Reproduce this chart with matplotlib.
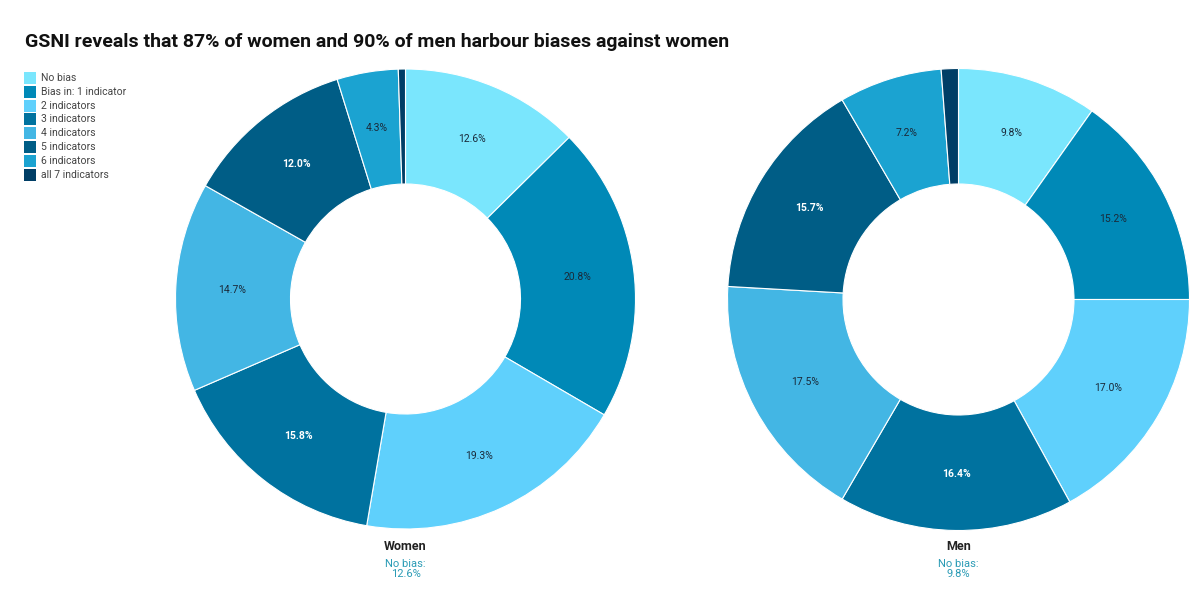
import matplotlib
matplotlib.use("Agg")
import matplotlib.pyplot as plt
from matplotlib.patches import Rectangle

plt.rcParams['font.family'] = ['Roboto', 'DejaVu Sans']

# data
categories = ["No bias", "Bias in: 1 indicator", "2 indicators", "3 indicators",
              "4 indicators", "5 indicators", "6 indicators", "all 7 indicators"]
women = [12.6, 20.8, 19.3, 15.8, 14.7, 12.0, 4.3, 0.5]
men = [9.8, 15.2, 17.0, 16.4, 17.5, 15.7, 7.2, 1.2]
colors = ["#7ae6fd", "#0089b7", "#5fd0fc", "#00729f", "#43b6e4", "#005d86", "#1ba3d1", "#003e66"]
dark = [False, False, False, True, False, True, False, False]

fig = plt.figure(figsize=(12, 5.9), dpi=100)
W, H = 1200, 590


def donut(cx, cy, r, values, name):
    ax = fig.add_axes([(cx - r) / W, (H - cy - r) / H, 2 * r / W, 2 * r / H])
    wedges, texts, autotexts = ax.pie(
        values, colors=colors, startangle=90, counterclock=False,
        autopct=lambda p: "", pctdistance=0.755,
        wedgeprops=dict(width=0.5, edgecolor="white", linewidth=0.8))
    for i, t in enumerate(autotexts):
        if values[i] < 2:
            continue
        t.set_text("%.1f%%" % values[i])
        t.set_fontsize(7.5)
        if dark[i]:
            t.set_color("white")
            t.set_fontweight("bold")
        else:
            t.set_color("#1a2a3a")
    ax.set_xlim(-1, 1)
    ax.set_ylim(-1, 1)
    ax.set_aspect("equal")
    fig.text(cx / W, 1 - 547 / H, name, ha="center", va="center",
             fontsize=9, fontweight="bold", color="#222222")
    fig.text(cx / W, 1 - 569 / H, "No bias:\n%.1f%%" % values[0], ha="center", va="center",
             fontsize=8, color="#2a9bb5", linespacing=1.1)


donut(405.5, 299, 230, women, "Women")
donut(958.5, 299.5, 231, men, "Men")

fig.text(25 / W, 1 - 42 / H, "GSNI reveals that 87% of women and 90% of men harbour biases against women",
         ha="left", va="center", fontsize=14, fontweight="bold", color="#111111")

# legend
for i, c in enumerate(categories):
    y = 78 + i * 13.8
    fig.patches.append(Rectangle((24 / W, 1 - (y + 6) / H), 12 / W, 12 / H,
                                 transform=fig.transFigure, facecolor=colors[i],
                                 edgecolor="none"))
    fig.text(41 / W, 1 - y / H, c, ha="left", va="center", fontsize=7.5, color="#444444")

fig.savefig("out.png", dpi=100)
